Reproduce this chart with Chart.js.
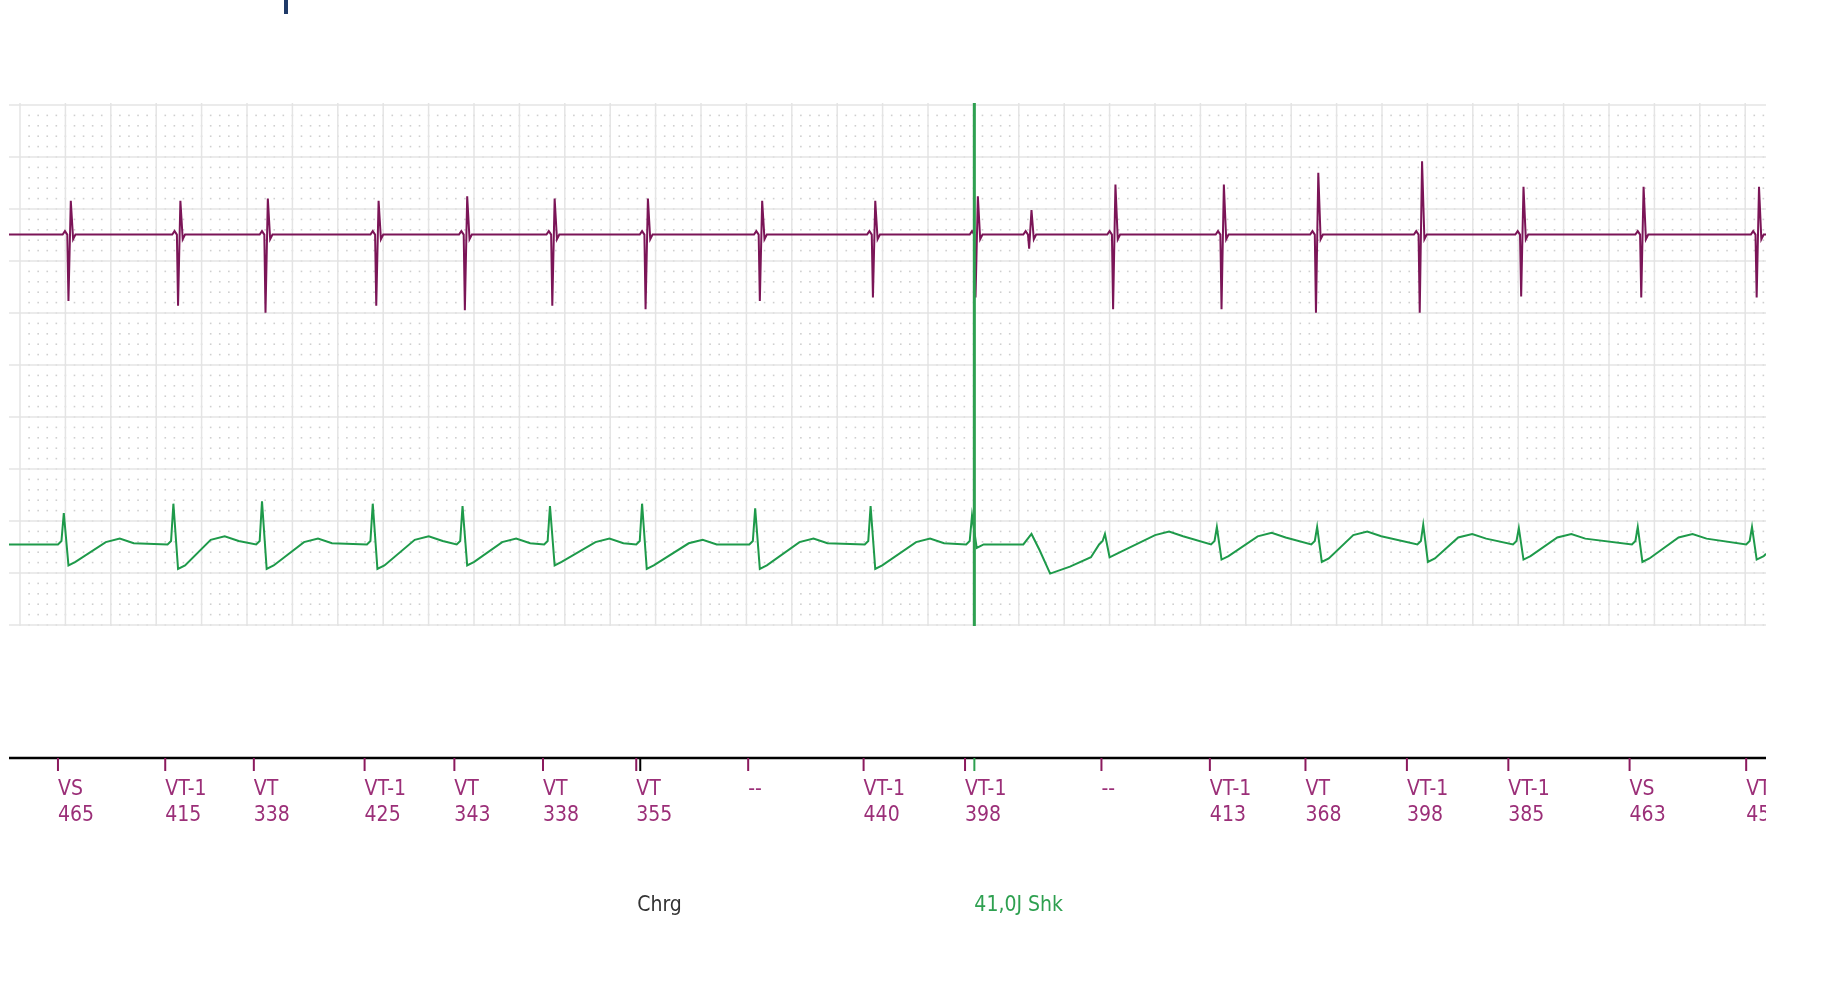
<!DOCTYPE html>
<html>
<head>
<meta charset="utf-8">
<script src="https://cdn.jsdelivr.net/npm/chart.js@4"></script>
<style>
  html, body { margin: 0; padding: 0; background: #fff; }
  #wrap { width: 1827px; height: 1007px; }
</style>
</head>
<body>
<div id="wrap"><canvas id="ecg"></canvas></div>
<script>
// DATA (x = time on strip, y = amplitude units, both)
// top channel (purple) spikes
const purpleX    = [52, 146, 221, 316, 392, 467, 547, 645, 742, 830, 876, 948, 1041, 1122, 1211, 1298, 1401, 1500];
const purpleTop  = [172, 172, 170, 172, 168, 170, 170, 172, 172, 168, 180, 158, 158, 148, 138, 160, 160, 160];
const purpleBot  = [258, 262, 268, 262, 266, 262, 265, 258, 255, 255, 213, 265, 265, 268, 268, 254, 255, 255];
const purpleBase = 201;

// bottom channel (green) spikes and T humps
const greenX    = [47, 141, 217, 312, 389, 464, 543, 640, 739, 826, 940, 1036, 1122, 1213, 1295, 1397, 1495];
const greenPeak = [440, 432, 430, 432, 434, 434, 432, 436, 434, 442, 458, 452, 452, 450, 453, 452, 452];
const greenDip  = [485, 488, 488, 488, 485, 485, 488, 488, 488, 470, 478, 480, 482, 482, 480, 482, 480];
const humpX     = [95, 185, 265, 360, 435, 515, 595, 690, 790, 995, 1083, 1165, 1255, 1340, 1444];
const humpY     = [462, 460, 462, 460, 462, 462, 463, 462, 462, 456, 457, 456, 458, 458, 458];
// post-shock deflection
const shockWaveX = [840, 870, 877, 884, 893, 910, 928];
const shockWaveY = [467, 467, 458, 472, 492, 486, 478];
const greenBase = 467;

// marker channel
const markerX     = [42, 134, 210, 305, 382, 458, 538, 634, 733, 820, 937, 1030, 1112, 1199, 1286, 1390, 1490];
const markerName  = ["VS", "VT-1", "VT", "VT-1", "VT", "VT", "VT", "--", "VT-1", "VT-1", "--", "VT-1", "VT", "VT-1", "VT-1", "VS", "VT"];
const markerValue = ["465", "415", "338", "425", "343", "338", "355", "", "440", "398", "", "413", "368", "398", "385", "463", "45"];
const chargeX = 538, chargeText = "Chrg";
const shockX = 828, shockText = "41,0J Shk";

const X_MAX = 1507, Y_TOP = 88, Y_BOT = 537;
const val = y => Y_BOT - y;

// build traces
let purplePts = [{x: 0, y: val(purpleBase)}];
purpleX.forEach((x, i) => {
  purplePts.push({x: x - 6, y: val(purpleBase)});
  purplePts.push({x: x - 4, y: val(purpleBase - 3)});
  purplePts.push({x: x - 2, y: val(purpleBase)});
  purplePts.push({x: x - 1, y: val(purpleBot[i])});
  purplePts.push({x: x + 1, y: val(purpleTop[i])});
  purplePts.push({x: x + 3, y: val(purpleBase + 4)});
  purplePts.push({x: x + 5, y: val(purpleBase)});
});
purplePts.push({x: X_MAX, y: val(purpleBase)});

let greenPts = [{x: 0, y: val(greenBase)}];
greenX.forEach((x, i) => {
  greenPts.push({x: x - 5, y: val(greenBase)});
  greenPts.push({x: x - 2, y: val(greenBase - 3)});
  greenPts.push({x: x, y: val(greenPeak[i])});
  greenPts.push({x: x + 4, y: val(greenDip[i])});
  greenPts.push({x: x + 10, y: val(greenDip[i] - 3)});
});
humpX.forEach((x, i) => {
  greenPts.push({x: x - 12, y: val(humpY[i] + 3)});
  greenPts.push({x: x, y: val(humpY[i])});
  greenPts.push({x: x + 12, y: val(humpY[i] + 4)});
});
shockWaveX.forEach((x, i) => greenPts.push({x: x, y: val(shockWaveY[i])}));
greenPts.push({x: X_MAX, y: val(greenBase + 8)});
greenPts.sort((a, b) => a.x - b.x);

// PAPER GRID + MARKERS
const stripPlugin = {
  id: "strip",
  beforeDatasetsDraw(chart) {
    const c = chart.ctx, a = chart.chartArea;
    const majW = 45.4, majH = 52, x0 = 20, y0 = 105;
    c.save();
    c.fillStyle = "#cfcfcf";
    for (let x = x0 + majW / 5; x < a.right; x += majW / 5) {
      for (let y = y0 + majH / 5; y < a.bottom; y += majH / 5) {
        c.fillRect(x - 0.8, y - 0.8, 1.6, 1.6);
      }
    }
    c.strokeStyle = "#e4e4e4";
    c.lineWidth = 1.5;
    for (let x = x0; x < a.right; x += majW) {
      c.beginPath(); c.moveTo(x, a.top); c.lineTo(x, a.bottom); c.stroke();
    }
    for (let y = y0; y < a.bottom; y += majH) {
      c.beginPath(); c.moveTo(a.left, y); c.lineTo(a.right, y); c.stroke();
    }
    c.restore();
  },
  afterDatasetsDraw(chart) {
    const c = chart.ctx, a = chart.chartArea;
    const sx = chart.scales.x;
    c.save();
    // shock line
    const shx = sx.getPixelForValue(shockX);
    c.strokeStyle = "#2ea050"; c.lineWidth = 3;
    c.beginPath(); c.moveTo(shx, a.top); c.lineTo(shx, a.bottom); c.stroke();

    // blue mark at top
    c.fillStyle = "#1f3a68";
    c.fillRect(284, 0, 4, 14);

    // marker axis
    const axY = 758;
    c.strokeStyle = "#000"; c.lineWidth = 2.5;
    c.beginPath(); c.moveTo(a.left, axY); c.lineTo(a.right, axY); c.stroke();
    c.beginPath();
    c.rect(a.left - 5, axY - 5, a.right - a.left + 5, 300);
    c.clip();
    c.font = "21px 'DejaVu Sans Condensed', 'DejaVu Sans', sans-serif";
    c.textBaseline = "middle";
    markerX.forEach((x, i) => {
      const px = sx.getPixelForValue(x);
      c.strokeStyle = "#8b1a5e"; c.lineWidth = 2;
      c.beginPath(); c.moveTo(px, axY); c.lineTo(px, axY + 13); c.stroke();
      c.fillStyle = "#9b2f78";
      c.fillText(markerName[i], px, 790);
      c.fillText(markerValue[i], px, 816);
    });
    // charge and shock ticks
    const chx = sx.getPixelForValue(chargeX);
    c.strokeStyle = "#000"; c.lineWidth = 2;
    c.beginPath(); c.moveTo(chx + 4, axY); c.lineTo(chx + 4, axY + 13); c.stroke();
    c.strokeStyle = "#2ea050";
    c.beginPath(); c.moveTo(shx, axY); c.lineTo(shx, axY + 13); c.stroke();
    c.fillStyle = "#333";
    c.fillText(chargeText, chx + 1, 906);
    c.fillStyle = "#2ea050";
    c.fillText(shockText, shx, 906);
    c.restore();
  }
};

new Chart(document.getElementById("ecg"), {
  type: "line",
  data: {
    datasets: [
      { label: "EGM 1", data: purplePts, borderColor: "#7b1557", borderWidth: 2, pointRadius: 0, tension: 0 },
      { label: "EGM 2", data: greenPts, borderColor: "#1e9a4a", borderWidth: 2, pointRadius: 0, tension: 0 }
    ]
  },
  options: {
    responsive: true,
    maintainAspectRatio: false,
    animation: false,
    layout: { padding: { left: 9, right: 61, top: 103, bottom: 381 } },
    plugins: { legend: { display: false }, tooltip: { enabled: false } },
    scales: {
      x: { type: "linear", min: 0, max: X_MAX, display: false },
      y: { min: 0, max: Y_BOT - Y_TOP, display: false }
    }
  },
  plugins: [stripPlugin]
});
</script>
</body>
</html>
